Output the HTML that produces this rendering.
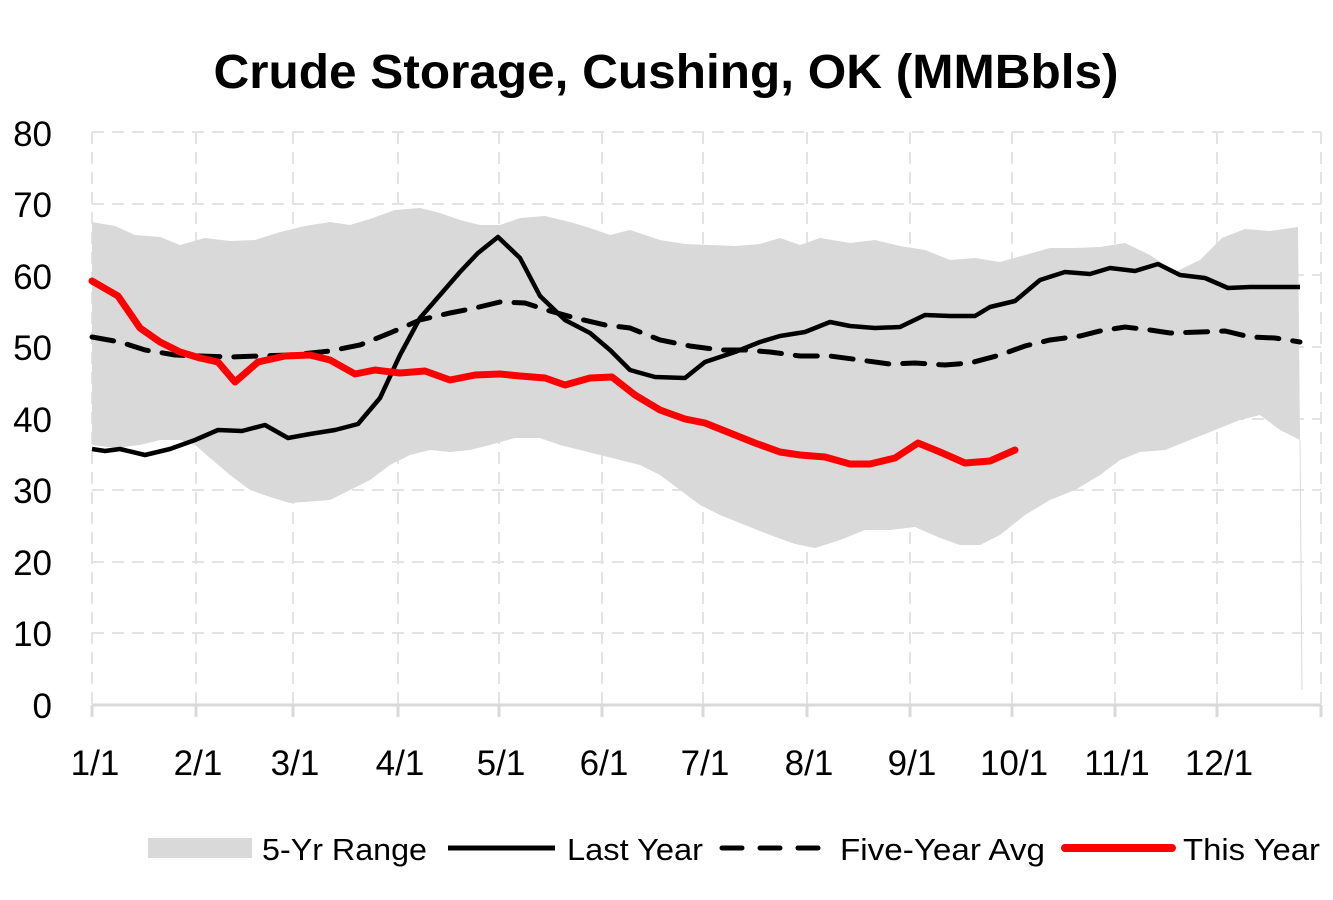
<!DOCTYPE html>
<html><head><meta charset="utf-8"><style>
body{margin:0;background:#fff;}
svg{display:block;font-family:"Liberation Sans","DejaVu Sans",sans-serif;}
</style></head><body>
<svg width="1333" height="900" viewBox="0 0 1333 900">
<text x="666" y="88" font-size="48" font-weight="bold" text-anchor="middle" textLength="905" lengthAdjust="spacingAndGlyphs">Crude Storage, Cushing, OK (MMBbls)</text>
<g stroke="#e3e3e3" stroke-width="2" stroke-dasharray="12,8" fill="none">
<line x1="92" y1="132" x2="1321" y2="132"/><line x1="92" y1="204" x2="1321" y2="204"/><line x1="92" y1="275" x2="1321" y2="275"/><line x1="92" y1="347" x2="1321" y2="347"/><line x1="92" y1="419" x2="1321" y2="419"/><line x1="92" y1="490" x2="1321" y2="490"/><line x1="92" y1="562" x2="1321" y2="562"/><line x1="92" y1="633" x2="1321" y2="633"/>
<line x1="92" y1="132" x2="92" y2="705"/><line x1="196" y1="132" x2="196" y2="705"/><line x1="293" y1="132" x2="293" y2="705"/><line x1="398" y1="132" x2="398" y2="705"/><line x1="499" y1="132" x2="499" y2="705"/><line x1="602" y1="132" x2="602" y2="705"/><line x1="703" y1="132" x2="703" y2="705"/><line x1="807" y1="132" x2="807" y2="705"/><line x1="910" y1="132" x2="910" y2="705"/><line x1="1012" y1="132" x2="1012" y2="705"/><line x1="1115" y1="132" x2="1115" y2="705"/><line x1="1217" y1="132" x2="1217" y2="705"/><line x1="1321" y1="132" x2="1321" y2="705"/>
</g>
<polygon fill="#d9d9d9" points="92,222 115,226 135,235 160,237 180,245 205,238 230,241 255,240 280,232 305,226 330,222 350,225 370,219 395,210 420,208 440,213 460,220 480,225 500,225 520,218 545,216 570,222 590,228 610,235 630,230 660,240 685,244 710,245 735,246 760,244 780,238 800,245 820,238 850,243 875,240 900,246 925,250 950,260 975,258 1000,262 1025,255 1050,248 1075,248 1100,247 1125,243 1150,255 1175,272 1200,260 1222,238 1245,229 1270,231 1298,227 1300,440 1280,430 1260,415 1240,420 1215,430 1190,440 1165,450 1140,452 1120,460 1100,475 1075,490 1050,500 1025,515 1000,535 980,545 960,545 940,538 915,527 890,530 865,530 840,540 815,548 795,544 770,535 745,525 720,515 700,505 680,490 660,475 640,465 620,460 600,455 580,450 560,445 540,438 515,438 490,445 470,450 450,452 430,450 410,455 390,465 370,480 350,490 330,500 305,502 290,503 270,497 250,490 230,475 210,458 195,445 180,440 160,440 140,445 115,448 92,445"/>
<line x1="1300" y1="440" x2="1302" y2="690" stroke="#d9d9d9" stroke-width="1"/>
<line x1="92" y1="705" x2="1321" y2="705" stroke="#d9d9d9" stroke-width="3"/>
<g stroke="#d9d9d9" stroke-width="3"><line x1="92" y1="705" x2="92" y2="717"/><line x1="196" y1="705" x2="196" y2="717"/><line x1="293" y1="705" x2="293" y2="717"/><line x1="398" y1="705" x2="398" y2="717"/><line x1="499" y1="705" x2="499" y2="717"/><line x1="602" y1="705" x2="602" y2="717"/><line x1="703" y1="705" x2="703" y2="717"/><line x1="807" y1="705" x2="807" y2="717"/><line x1="910" y1="705" x2="910" y2="717"/><line x1="1012" y1="705" x2="1012" y2="717"/><line x1="1115" y1="705" x2="1115" y2="717"/><line x1="1217" y1="705" x2="1217" y2="717"/><line x1="1321" y1="705" x2="1321" y2="717"/></g>
<polyline fill="none" stroke="#000" stroke-width="5" stroke-dasharray="22,14" stroke-linecap="round" points="92,337 120,342 145,350 175,355 200,356 230,357 260,356 290,355 330,351 360,345 390,333 420,320 450,313 475,308 500,302 525,303 550,311 575,318 605,325 630,328 660,340 690,346 720,350 745,350 770,352 800,356 830,356 860,360 890,364 915,363 945,365 970,363 1000,355 1025,346 1050,340 1080,336 1100,331 1125,327 1150,330 1170,333 1200,332 1225,331 1250,337 1275,338 1300,342"/>
<polyline fill="none" stroke="#000" stroke-width="4.5" stroke-linejoin="round" points="92,449 105,451 120,449 145,455 170,449 195,440 218,430 242,431 265,425 288,438 310,434 335,430 358,424 380,398 400,355 420,318 440,295 460,272 478,253 498,237 520,258 540,296 565,320 590,333 610,350 630,370 655,377 685,378 705,362 735,352 760,342 780,336 805,332 830,322 850,326 875,328 900,327 925,315 950,316 975,316 990,307 1015,301 1040,280 1065,272 1090,274 1110,268 1135,271 1158,264 1180,275 1205,278 1228,288 1250,287 1275,287 1300,287"/>
<polyline fill="none" stroke="#ff0000" stroke-width="7" stroke-linejoin="round" stroke-linecap="round" points="92,281 118,296 140,328 160,342 180,352 200,358 218,362 235,382 258,362 285,356 310,355 330,360 355,374 375,370 400,373 425,371 450,380 475,375 500,374 520,376 545,378 565,385 590,378 612,377 635,395 660,410 685,419 705,423 730,433 755,443 780,452 800,455 825,457 850,464 870,464 895,458 918,443 940,452 965,463 990,461 1015,450"/>
<g font-size="35" text-anchor="end">
<text x="52" y="146">80</text><text x="52" y="217">70</text><text x="52" y="289">60</text><text x="52" y="360">50</text><text x="52" y="432">40</text><text x="52" y="503">30</text><text x="52" y="575">20</text><text x="52" y="646">10</text><text x="52" y="718">0</text>
</g>
<g font-size="35" text-anchor="middle">
<text x="95" y="775">1/1</text><text x="198" y="775">2/1</text><text x="295" y="775">3/1</text><text x="400" y="775">4/1</text><text x="501" y="775">5/1</text><text x="604" y="775">6/1</text><text x="705" y="775">7/1</text><text x="809" y="775">8/1</text><text x="912" y="775">9/1</text><text x="1014" y="775">10/1</text><text x="1117" y="775">11/1</text><text x="1219" y="775">12/1</text>
</g>
<rect x="148" y="838" width="104" height="20" fill="#d9d9d9"/>
<line x1="448" y1="848" x2="555" y2="848" stroke="#000" stroke-width="5"/>
<line x1="722" y1="848" x2="830" y2="848" stroke="#000" stroke-width="5" stroke-dasharray="20,18" stroke-linecap="round"/>
<line x1="1065" y1="848" x2="1172" y2="848" stroke="#ff0000" stroke-width="8" stroke-linecap="round"/>
<g font-size="31"><text x="262" y="860" textLength="165" lengthAdjust="spacingAndGlyphs">5-Yr Range</text><text x="567" y="860" textLength="136" lengthAdjust="spacingAndGlyphs">Last Year</text><text x="840" y="860" textLength="205" lengthAdjust="spacingAndGlyphs">Five-Year Avg</text><text x="1183" y="860" textLength="137" lengthAdjust="spacingAndGlyphs">This Year</text></g>
</svg>
</body></html>
